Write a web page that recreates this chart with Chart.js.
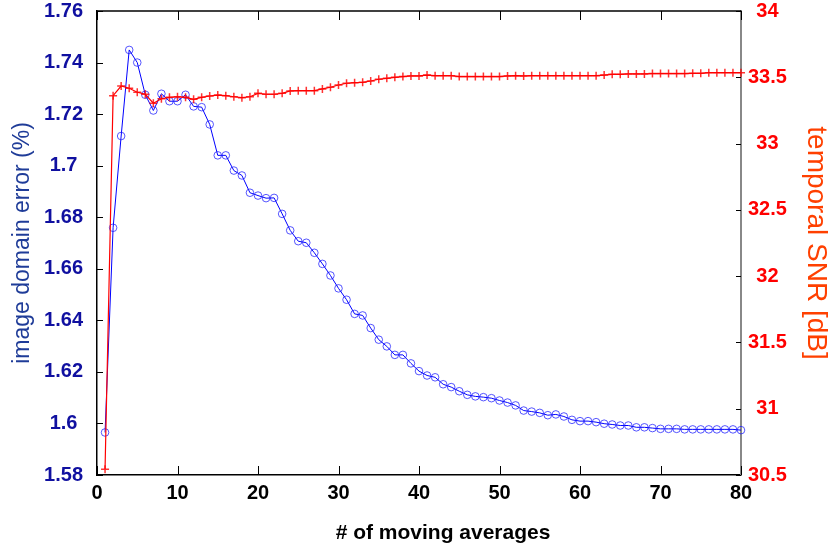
<!DOCTYPE html>
<html>
<head>
<meta charset="utf-8">
<script src="https://cdn.jsdelivr.net/npm/chart.js@4/dist/chart.umd.min.js"></script>
<style>
  html, body { margin: 0; padding: 0; background: #fff; }
  canvas { display: block; }
</style>
</head>
<body>
<canvas id="chart" width="833" height="550"></canvas>
<script>
// number of moving averages (x)
const averages = [
  1, 2, 3, 4, 5, 6, 7, 8, 9, 10,
  11, 12, 13, 14, 15, 16, 17, 18, 19, 20,
  21, 22, 23, 24, 25, 26, 27, 28, 29, 30,
  31, 32, 33, 34, 35, 36, 37, 38, 39, 40,
  41, 42, 43, 44, 45, 46, 47, 48, 49, 50,
  51, 52, 53, 54, 55, 56, 57, 58, 59, 60,
  61, 62, 63, 64, 65, 66, 67, 68, 69, 70,
  71, 72, 73, 74, 75, 76, 77, 78, 79, 80
];

// image domain error (%), left axis
const imageError = [
  1.5965, 1.6759, 1.7115, 1.7449, 1.7400, 1.7275, 1.7214, 1.7279, 1.7250, 1.7250,
  1.7275, 1.7230, 1.7227, 1.7160, 1.7040, 1.7040, 1.6981, 1.6962, 1.6895, 1.6884,
  1.6874, 1.6875, 1.6813, 1.6749, 1.6707, 1.6701, 1.6662, 1.6619, 1.6574, 1.6524,
  1.6480, 1.6425, 1.6419, 1.6370, 1.6325, 1.6299, 1.6266, 1.6266, 1.6233, 1.6203,
  1.6186, 1.6179, 1.6152, 1.6141, 1.6125, 1.6111, 1.6105, 1.6102, 1.6098, 1.6089,
  1.6081, 1.6070, 1.6050, 1.6046, 1.6041, 1.6032, 1.6035, 1.6027, 1.6014, 1.6009,
  1.6009, 1.6005, 1.5999, 1.5996, 1.5992, 1.5992, 1.5985, 1.5985, 1.5982, 1.5979,
  1.5979, 1.5979, 1.5977, 1.5977, 1.5977, 1.5977, 1.5977, 1.5977, 1.5977, 1.5974
];

// temporal SNR [dB], right axis
const temporalSnr = [
  30.544, 33.361, 33.434, 33.417, 33.387, 33.372, 33.304, 33.338, 33.349, 33.353,
  33.349, 33.334, 33.349, 33.359, 33.366, 33.361, 33.353, 33.346, 33.353, 33.379,
  33.372, 33.372, 33.379, 33.397, 33.399, 33.399, 33.399, 33.412, 33.425, 33.442,
  33.455, 33.459, 33.462, 33.472, 33.485, 33.492, 33.500, 33.505, 33.510, 33.510,
  33.517, 33.512, 33.512, 33.512, 33.505, 33.505, 33.505, 33.505, 33.505, 33.505,
  33.510, 33.512, 33.510, 33.512, 33.512, 33.512, 33.512, 33.512, 33.512, 33.512,
  33.512, 33.512, 33.517, 33.522, 33.522, 33.525, 33.525, 33.525, 33.528, 33.528,
  33.528, 33.528, 33.528, 33.530, 33.530, 33.535, 33.535, 33.535, 33.535, 33.535
];

const FONT = '"Liberation Sans", Arial, sans-serif';

// box top edge + inward tick marks, like the matlab frame
const frameTicks = {
  id: 'frameTicks',
  beforeDatasetsDraw(chart) {
    const { ctx, chartArea: a, scales } = chart;
    const line = (x1, y1, x2, y2) => {
      ctx.beginPath();
      ctx.moveTo(x1, y1);
      ctx.lineTo(x2, y2);
      ctx.stroke();
    };
    ctx.save();
    ctx.strokeStyle = '#000';
    ctx.lineWidth = 1.5;
    line(a.left, a.top, a.right, a.top);

    ctx.lineWidth = 1;
    scales.x.ticks.forEach(t => {
      const px = Math.round(scales.x.getPixelForValue(t.value)) + 0.5;
      line(px, a.bottom, px, a.bottom - 9);
      line(px, a.top, px, a.top + 9);
    });
    scales.yErr.ticks.forEach(t => {
      const py = Math.round(scales.yErr.getPixelForValue(t.value)) + 0.5;
      line(a.left, py, a.left + 6, py);
    });
    scales.ySnr.ticks.forEach(t => {
      const py = Math.round(scales.ySnr.getPixelForValue(t.value)) + 0.5;
      line(a.right, py, a.right - 5, py);
    });
    ctx.restore();
  },
  afterDraw(chart) {
    const { ctx, chartArea: a } = chart;
    ctx.save();
    ctx.fillStyle = '#000';
    ctx.font = 'bold 21px ' + FONT;
    ctx.textAlign = 'center';
    ctx.textBaseline = 'middle';
    ctx.fillText('# of moving averages', (a.left + a.right) / 2 + 24, 533);
    ctx.restore();
  }
};

// fixed axis boxes, and no extra room for the half label sticking out at the ends
const fixWidth = w => s => {
  s.width = w;
  s.paddingTop = 0;
  s.paddingBottom = 0;
};

const ctx = document.getElementById('chart').getContext('2d');

new Chart(ctx, {
  type: 'line',
  data: {
    datasets: [
      {
        label: 'temporal SNR [dB]',
        data: averages.map((x, i) => ({ x: x, y: temporalSnr[i] })),
        yAxisID: 'ySnr',
        borderColor: '#ff0000',
        borderWidth: 1.2,
        pointStyle: 'cross',
        pointRadius: 4,
        pointBorderColor: 'rgba(255, 0, 0, 0.8)',
        pointBorderWidth: 1.5,
        backgroundColor: 'transparent',
        tension: 0,
        clip: false
      },
      {
        label: 'image domain error (%)',
        data: averages.map((x, i) => ({ x: x, y: imageError[i] })),
        yAxisID: 'yErr',
        borderColor: '#0000ff',
        borderWidth: 1,
        pointStyle: 'circle',
        pointRadius: 3.8,
        pointBorderColor: 'rgba(30, 30, 255, 0.75)',
        pointBackgroundColor: 'transparent',
        pointBorderWidth: 1,
        backgroundColor: 'transparent',
        tension: 0,
        clip: false
      }
    ]
  },
  options: {
    responsive: false,
    animation: false,
    layout: { padding: { top: 11, left: 0, right: 0, bottom: 0 } },
    plugins: {
      legend: { display: false },
      tooltip: { enabled: false }
    },
    scales: {
      x: {
        type: 'linear',
        position: 'bottom',
        min: 0,
        max: 80,
        grid: { display: false, drawTicks: false },
        border: { display: true, color: '#000', width: 1.5 },
        ticks: {
          stepSize: 10,
          color: '#000',
          padding: 6,
          font: { family: FONT, size: 20, weight: 'bold' }
        },
        afterFit: s => {
          s.height = 75;
          s.paddingLeft = 0;
          s.paddingRight = 0;
        }
      },
      yErr: {
        type: 'linear',
        position: 'left',
        min: 1.58,
        max: 1.76,
        grid: { display: false, drawTicks: false },
        border: { display: true, color: '#000', width: 1.5 },
        ticks: {
          stepSize: 0.02,
          color: '#1010a0',
          padding: 14,
          crossAlign: 'center',
          font: { family: FONT, size: 20, weight: 'bold' },
          callback: v => String(Number(v.toFixed(2)))
        },
        title: {
          display: true,
          text: 'image domain error (%)',
          color: '#1f3c98',
          padding: { top: 9, bottom: 0 },
          font: { family: FONT, size: 23 }
        },
        afterFit: fixWidth(97)
      },
      ySnr: {
        type: 'linear',
        position: 'right',
        min: 30.5,
        max: 34,
        grid: { display: false, drawTicks: false },
        border: { display: true, color: '#888', width: 2 },
        ticks: {
          stepSize: 0.5,
          color: '#ff0000',
          padding: 7,
          crossAlign: 'center',
          font: { family: FONT, size: 20, weight: 'bold' },
          callback: v => String(Number(v.toFixed(1)))
        },
        title: {
          display: true,
          text: 'temporal SNR [dB]',
          color: '#ff4000',
          padding: { top: 0, bottom: 0 },
          font: { family: FONT, size: 28 }
        },
        afterFit: fixWidth(92)
      }
    }
  },
  plugins: [frameTicks]
});
</script>
</body>
</html>
